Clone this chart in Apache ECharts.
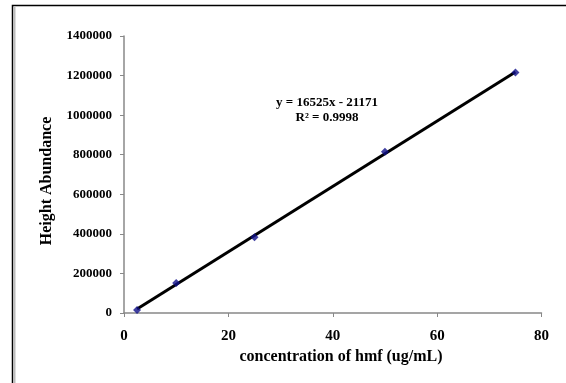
<!DOCTYPE html>
<html>
<head>
<meta charset="utf-8">
<script src="https://cdn.jsdelivr.net/npm/echarts@6/dist/echarts.min.js"></script>
<style>
  html, body { margin: 0; padding: 0; background: #fff; }
  #chart { width: 566px; height: 383px; }
</style>
</head>
<body>
<div id="chart"></div>
<script>
const concentration = [2.5, 10, 25, 50, 75];
const abundance = [15000, 151000, 383000, 815000, 1215000];
const slope = 16525;
const intercept = -21171;
const equationText = ['y = 16525x - 21171', 'R² = 0.9998'];
const xTitle = 'concentration of hmf (ug/mL)';
const yTitle = 'Height Abundance';

const chart = echarts.init(document.getElementById('chart'));

const points = concentration.map((x, i) => [x, abundance[i]]);
const xMin = Math.min(...concentration);
const xMax = Math.max(...concentration);
const trend = [xMin, xMax].map(x => [x, slope * x + intercept]);

const font = 'Liberation Serif, Times New Roman, serif';

const option = {
  animation: false,
  textStyle: { fontFamily: font },
  graphic: [
    {
      type: 'rect',
      shape: { x: 12.5, y: 5.5, width: 560, height: 400 },
      style: { fill: 'none', stroke: '#000', lineWidth: 1.5 },
      silent: true
    },
    {
      type: 'line',
      shape: { x1: 14.5, y1: 7, x2: 14.5, y2: 383 },
      style: { stroke: '#bbb', lineWidth: 2 },
      silent: true
    },
    {
      type: 'text',
      x: 327,
      y: 95,
      style: {
        text: equationText.join('\n'),
        font: 'bold 13px ' + font,
        fill: '#000',
        align: 'center',
        verticalAlign: 'top',
        lineHeight: 15
      },
      silent: true
    },
    {
      type: 'text',
      x: 341,
      y: 357,
      style: {
        text: xTitle,
        font: 'bold 16px ' + font,
        fill: '#000',
        align: 'center',
        verticalAlign: 'middle'
      },
      silent: true
    },
    {
      type: 'text',
      x: 47,
      y: 181,
      rotation: Math.PI / 2,
      style: {
        text: yTitle,
        font: 'bold 16px ' + font,
        fill: '#000',
        align: 'center',
        verticalAlign: 'middle'
      },
      silent: true
    }
  ],
  grid: { left: 124, right: 24.5, top: 36, bottom: 70 },
  xAxis: {
    type: 'value',
    min: 0,
    max: 80,
    interval: 20,
    axisLine: { lineStyle: { color: '#888', width: 1.5 } },
    axisTick: { show: true, length: 4, lineStyle: { color: '#888' } },
    axisLabel: { fontFamily: font, fontWeight: 'bold', fontSize: 15, color: '#000', margin: 16 },
    splitLine: { show: false }
  },
  yAxis: {
    type: 'value',
    min: 0,
    max: 1400000,
    interval: 200000,
    axisLine: { show: true, lineStyle: { color: '#888', width: 1.5 } },
    axisTick: { show: true, length: 4, lineStyle: { color: '#888' } },
    axisLabel: {
      fontFamily: font, fontWeight: 'bold', fontSize: 13, color: '#000', margin: 12,
      formatter: v => String(v)
    },
    splitLine: { show: false }
  },
  series: [
    {
      type: 'line',
      data: trend,
      symbol: 'none',
      lineStyle: { color: '#000', width: 3 },
      z: 2
    },
    {
      type: 'scatter',
      data: points,
      symbol: 'diamond',
      symbolSize: 8,
      itemStyle: { color: '#10108a' },
      z: 3
    }
  ]
};

chart.setOption(option);
</script>
</body>
</html>
